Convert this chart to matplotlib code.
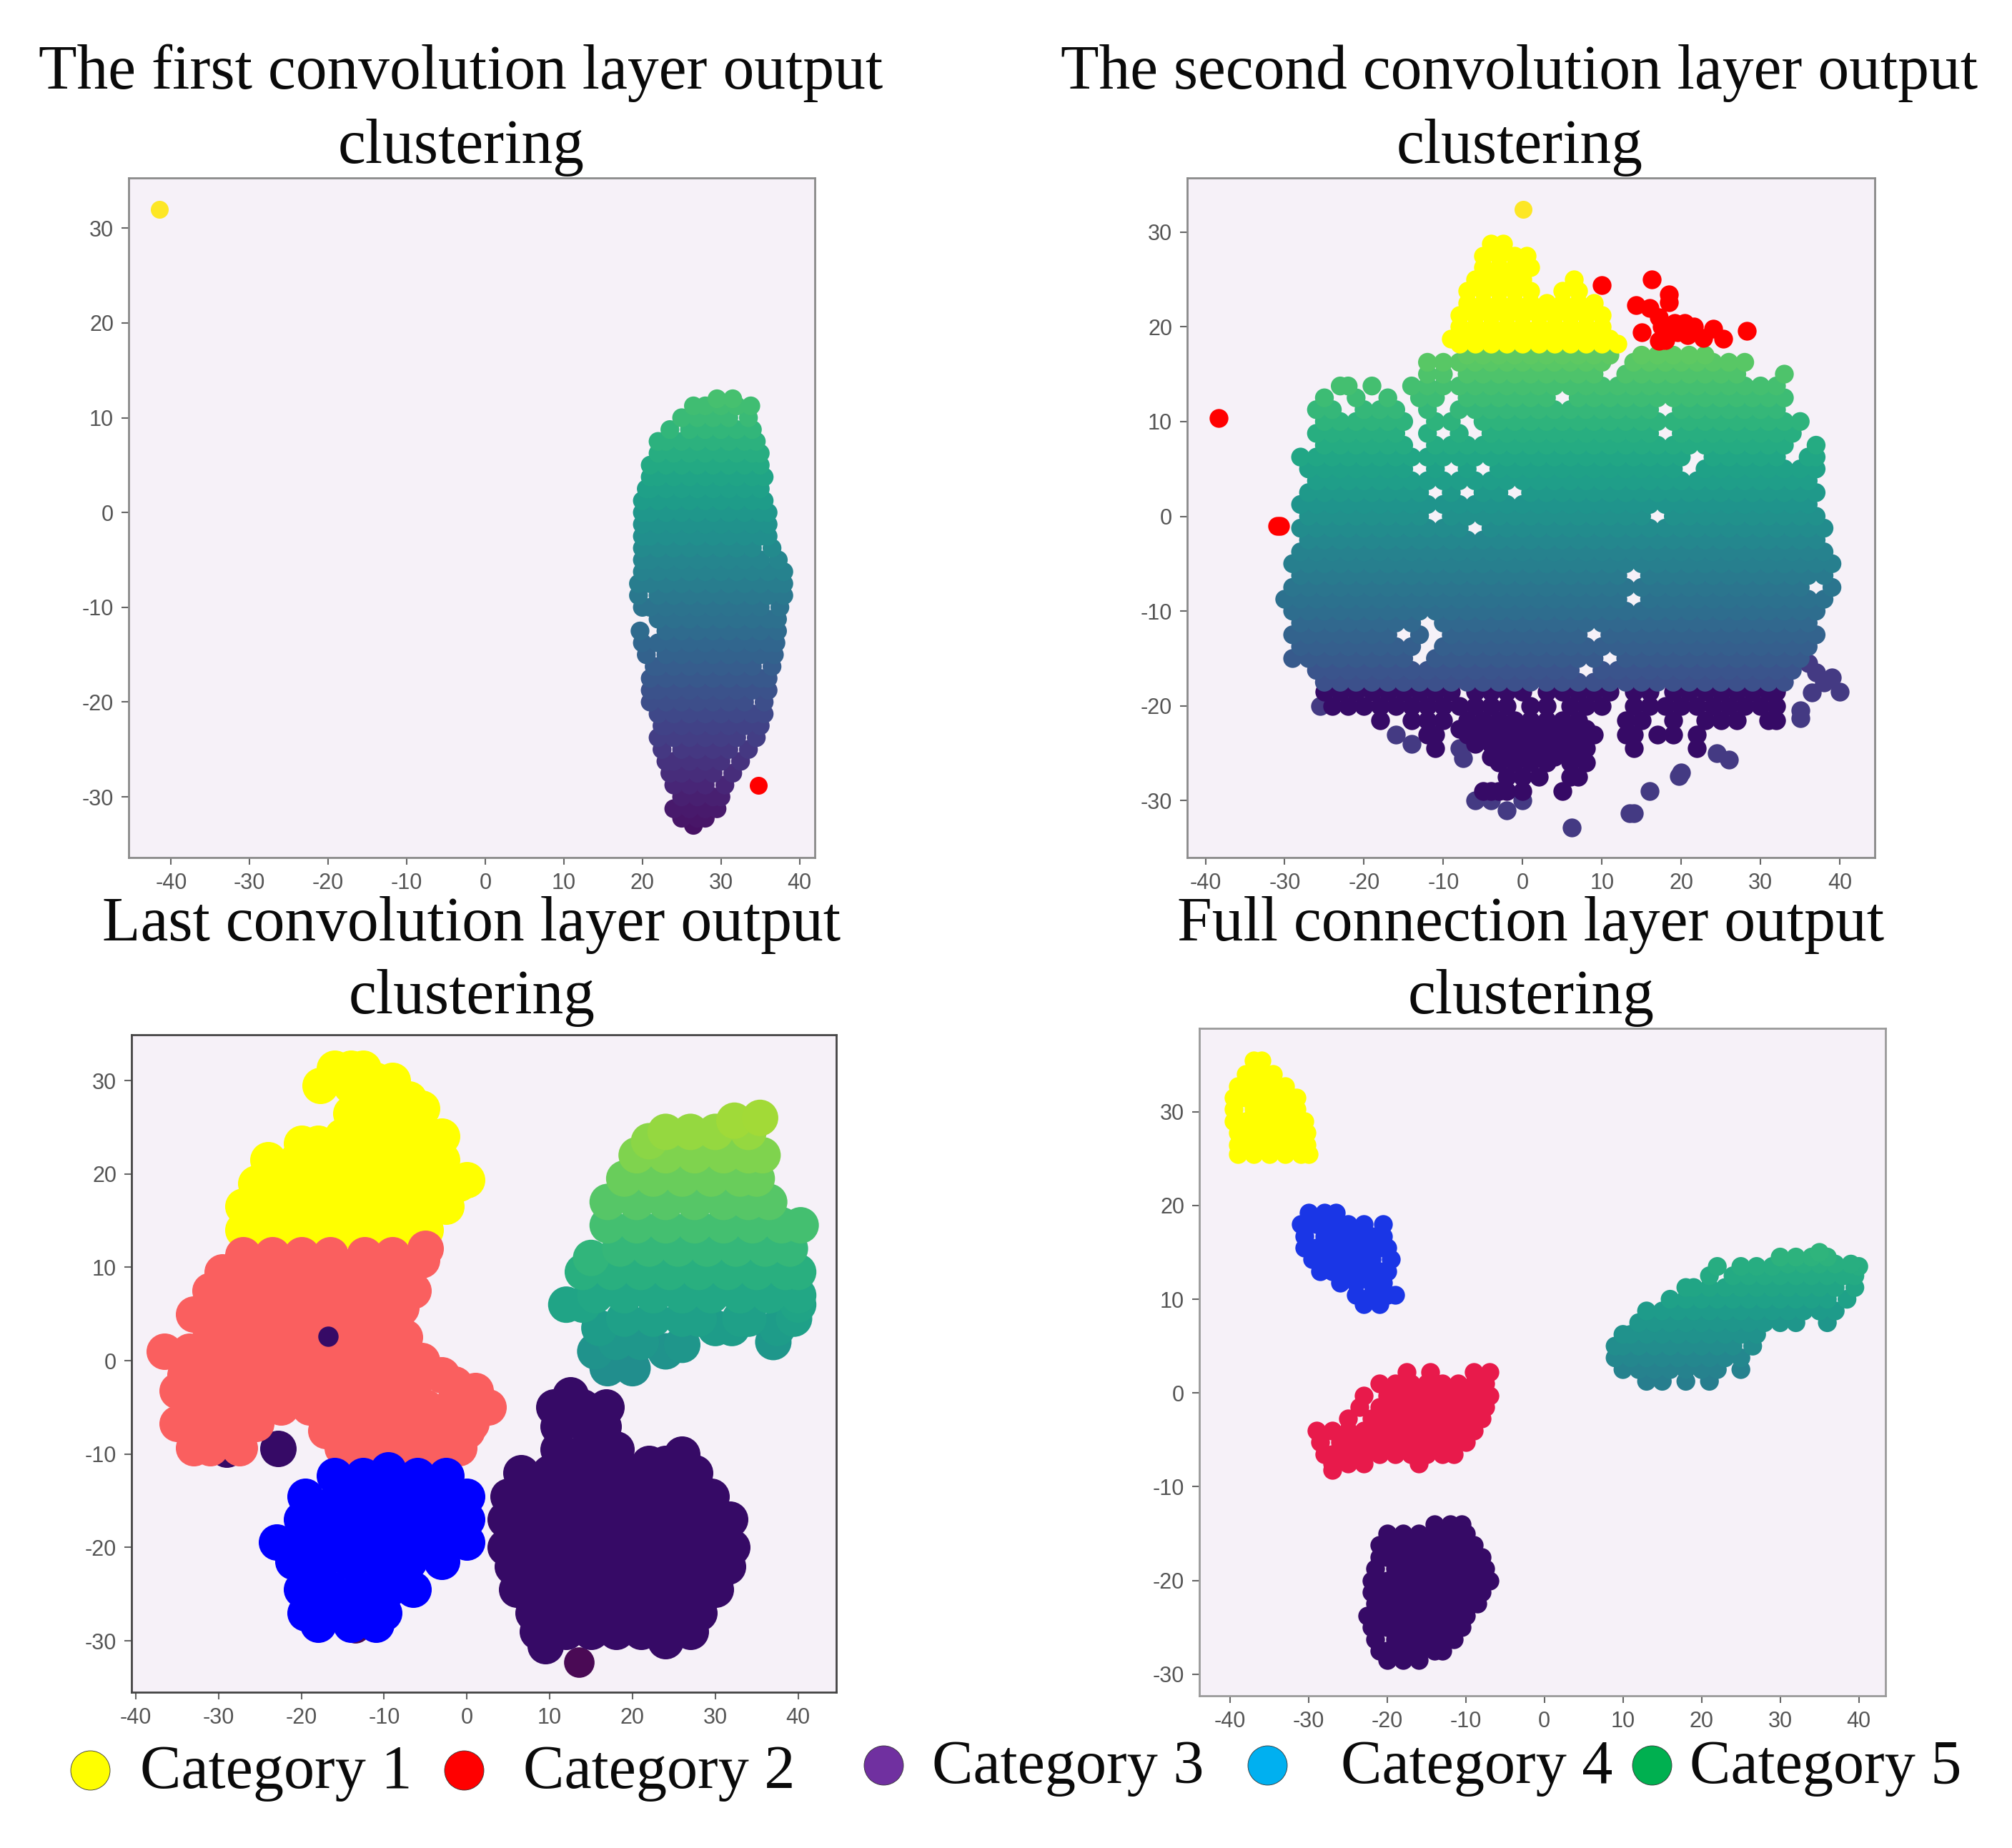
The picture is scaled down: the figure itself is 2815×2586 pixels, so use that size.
import matplotlib
matplotlib.use("Agg")
import matplotlib.pyplot as plt
from matplotlib.colors import Normalize

W, H = 2815, 2586
plt.rcParams['font.family'] = ['Liberation Serif', 'DejaVu Serif']
plt.rcParams['axes.unicode_minus'] = False

titles = [["The first convolution layer output", "clustering"],
          ["The second convolution layer output", "clustering"],
          ["Last convolution layer output", "clustering"],
          ["Full connection layer output", "clustering"]]
legend_labels = ["Category 1", "Category 2", "Category 3", "Category 4", "Category 5"]
legend_colors = ["#ffff00", "#ff0000", "#7030a0", "#00b0f0", "#00b050"]
xticks = [-40, -30, -20, -10, 0, 10, 20, 30, 40]
yticks_a = [-30, -20, -10, 0, 10, 20, 30]

# ---------- panel A: (y, [x...]) rows
a_body = [
 (-33, [26.5]), (-32.25, [25, 27, 28]), (-31.25, [24, 26, 28, 29.5]), (-30, [25, 27, 29, 30]),
 (-28.75, [24, 26, 28, 30.5]), (-27.5, [23.5, 25, 27, 29, 31.5]), (-26.25, [23, 24, 26, 28, 30, 32.5]),
 (-25, [22.5, 25, 27, 29, 31, 33.5]), (-23.75, [22, 24, 26, 28, 30, 32, 34.5]),
 (-22.5, [22.5, 23, 25, 27, 29, 31, 33, 35]), (-21.25, [22, 24, 26, 28, 30, 32, 34, 35.5]),
 (-20, [21, 23, 25, 27, 29, 31, 33, 35.5]), (-18.75, [21, 22, 24, 26, 28, 30, 32, 34, 36]),
 (-17.5, [21, 23, 25, 27, 29, 31, 33, 35, 36]), (-16.25, [21.5, 22, 24, 26, 28, 30, 32, 34, 36.5]),
 (-15, [20.5, 23, 25, 27, 29, 31, 33, 35, 36.8]), (-13.75, [20, 22, 24, 26, 28, 30, 32, 34, 36, 37]),
 (-12.5, [19.7, 23, 25, 27, 29, 31, 33, 35, 37.2]), (-11.25, [22, 24, 26, 28, 30, 32, 34, 36, 37.2]),
 (-10, [20, 21, 23, 25, 27, 29, 31, 33, 35, 37.5]), (-8.75, [19.5, 22, 24, 26, 28, 30, 32, 34, 36, 38]),
 (-7.5, [19.5, 21, 23, 25, 27, 29, 31, 33, 35, 37, 38]),
 (-6.25, [20, 22, 24, 26, 28, 30, 32, 34, 36, 38]),
 (-5, [20, 21, 23, 25, 27, 29, 31, 33, 35, 37.3]),
 (-3.75, [20, 22, 24, 26, 28, 30, 32, 34, 36.5]), (-2.5, [20, 21, 23, 25, 27, 29, 31, 33, 35, 36]),
 (-1.25, [20, 22, 24, 26, 28, 30, 32, 34, 36]), (0, [20, 21, 23, 25, 27, 29, 31, 33, 35, 36]),
 (1.25, [20, 22, 24, 26, 28, 30, 32, 34, 35.5]), (2.5, [20.5, 21, 23, 25, 27, 29, 31, 33, 35]),
 (3.75, [21, 22, 24, 26, 28, 30, 32, 34, 35.5]), (5, [21, 23, 25, 27, 29, 31, 33, 35]),
 (6.25, [22, 24, 26, 28, 30, 32, 34, 35]), (7.5, [22, 23, 25, 27, 29, 31, 33, 34.5]),
 (8.75, [23.5, 26, 28, 30, 32, 34]), (10, [25, 27, 29, 31, 33.5]), (11.25, [26.5, 28, 30, 32, 33.8]),
 (12, [29.5, 31.5]),
]
a_gold = [(-41.5, 32)]
a_red = [(34.8, -28.8)]

# ---------- panel B
b_body = [
 (-17.5, [-25,-23,-21,-19,-17,-15,-13,-11,-9,-7,-5,-3,-1,1,3,5,7,9,11,13,15,17,19,21,23,25,27,29,31,33]),
 (-16.25, [-26,-24,-22,-20,-18,-16,-14,-12,-10,-8,-6,-4,-2,0,2,4,6,10,12,14,16,18,20,22,24,26,28,30,32,34]),
 (-15, [-29,-27,-25,-23,-21,-19,-17,-15,-11,-9,-7,-5,-3,-1,1,3,5,7,9,13,15,17,19,21,23,25,27,29,31,33,35]),
 (-13.75, [-28,-26,-24,-22,-20,-18,-16,-14,-10,-8,-6,-4,-2,0,2,4,6,8,10,12,14,16,18,20,22,24,26,28,30,32,34,36]),
 (-12.5, [-29,-27,-25,-23,-21,-19,-17,-13,-9,-7,-5,-3,-1,1,3,5,7,11,13,15,17,19,21,23,25,27,29,31,33,35,37]),
 (-11.25, [-28,-26,-24,-22,-20,-18,-16,-14,-10,-8,-6,-4,-2,0,2,4,6,8,10,12,14,16,18,20,22,24,26,28,30,32,34,36]),
 (-10, [-29,-27,-25,-23,-21,-19,-17,-15,-13,-11,-9,-7,-5,-3,-1,1,3,5,7,9,11,13,15,17,19,21,23,25,27,29,31,33,35,37]),
 (-8.75, [-30,-28,-26,-24,-22,-20,-18,-16,-14,-12,-10,-8,-6,-4,-2,0,2,4,6,8,10,12,16,18,20,22,24,26,28,30,32,34,36,38]),
 (-7.5, [-29,-27,-25,-23,-21,-19,-17,-15,-13,-11,-9,-7,-5,-3,-1,1,3,5,7,9,11,13,15,17,19,21,23,25,27,29,31,33,35,39]),
 (-6.25, [-28,-26,-24,-22,-20,-18,-16,-14,-12,-10,-8,-6,-4,-2,0,2,4,6,8,10,12,16,18,20,22,24,26,28,30,32,34,36,38]),
 (-5, [-29,-27,-25,-23,-21,-19,-17,-15,-13,-11,-9,-7,-5,-3,-1,1,3,5,7,9,11,13,15,17,19,21,23,25,27,29,31,33,35,37,39]),
 (-3.75, [-28,-26,-24,-22,-20,-18,-16,-14,-12,-10,-8,-6,-4,-2,0,2,4,6,8,10,12,14,16,18,20,22,24,26,28,30,32,34,36,38]),
 (-2.5, [-27,-25,-23,-21,-19,-17,-15,-13,-11,-9,-7,-5,-3,-1,1,3,5,7,9,11,13,15,17,19,21,23,25,27,29,31,33,35,37]),
 (-1.25, [-28,-26,-24,-22,-20,-18,-16,-14,-12,-10,-8,-4,-2,0,2,4,6,8,10,12,14,16,18,20,22,24,26,28,30,32,34,36,38]),
 (0, [-27,-25,-23,-21,-19,-17,-15,-13,-9,-7,-5,-3,-1,1,3,5,7,9,11,13,15,19,21,23,25,27,29,31,33,35,37]),
 (1.25, [-28,-26,-24,-22,-20,-18,-16,-14,-12,-10,-8,-6,-4,-2,0,2,4,6,8,10,12,14,16,18,20,22,24,26,28,30,32,34,36]),
 (2.5, [-27,-25,-23,-21,-19,-17,-15,-13,-9,-5,-3,1,3,5,7,9,11,13,15,17,19,21,23,25,27,29,31,33,35,37]),
 (3.75, [-26,-24,-22,-20,-18,-16,-14,-12,-10,-8,-6,-4,-2,0,2,4,6,8,10,12,14,16,18,20,22,24,26,28,30,32,34,36]),
 (5, [-27,-25,-23,-21,-19,-17,-15,-11,-7,-3,-1,1,3,5,7,9,11,13,15,17,19,23,25,27,29,31,33,35,37]),
 (6.25, [-28,-26,-24,-22,-20,-18,-16,-14,-12,-10,-8,-6,-4,-2,0,2,4,6,8,10,12,14,16,18,20,24,26,28,30,32,36,37]),
 (7.5, [-25,-23,-21,-19,-17,-15,-11,-9,-7,-5,-3,-1,1,3,5,7,9,11,13,15,17,19,21,23,25,27,29,31,33,37]),
 (8.75, [-26,-24,-22,-20,-18,-16,-12,-8,-4,-2,0,2,4,6,8,10,12,14,16,20,22,24,26,28,30,32,34]),
 (10, [-25,-23,-21,-19,-17,-15,-11,-9,-5,-3,-1,1,3,5,7,9,11,13,15,17,19,21,23,25,27,29,31,33,35]),
 (11.25, [-26,-24,-20,-18,-16,-12,-8,-6,-4,-2,0,2,4,6,8,10,12,14,16,20,22,24,26,28,30,32]),
 (12.5, [-25,-21,-17,-13,-11,-7,-5,-3,-1,1,3,7,9,11,13,15,17,19,21,23,25,27,29,31,33]),
 (13.75, [-23,-22,-19,-14,-12,-10,-8,-6,-4,-2,0,2,4,6,8,10,12,14,16,18,20,22,24,26,28,30,32]),
 (15, [-12,-10,-7,-5,-3,-1,1,3,5,7,9,13,15,17,19,21,23,25,27,33]),
 (16.25, [-12,-10,-8,-6,-4,-2,0,2,4,6,8,10,14,16,18,20,22,24,26,28]),
 (17, [-7,-5,-3,-1,1,3,5,7,9,11,15,17,19,21,23]),
]
b_dark = [
 (-18.5, [-25,-23,-21,-19,-17,-15,-13,-11,-9,-6,-4,-2,0,3,5,7,9,11,14,16,19,21,23,25,27,29,31,32]),
 (-20, [-24,-22,-20,-18,-16,-14,-12,-10,-8,-6,-4,-2,1,3,6,8,10,14,16,18,20,22,24,26,28,30,32]),
 (-21.5, [-18,-14,-12,-10,-7,-5,-3,-1,1,3,5,7,13,15,19,23,25,27,31,32]),
 (-22.4, [-8,-6,-4,-2,0,2,4,6,8]),
 (-23, [-12,-11,-7,-5,-3,-1,1,3,5,7,9,13,14,17,19,22]),
 (-24, [-6,-4,-2,0,2,4,6,7]),
 (-24.5, [-11,-3,-1,1,3,5,8,14,22]),
 (-25.4, [-4,-2,0,2,4,6,7]),
 (-26, [-3,-1,1,3,6,8]),
 (-27.5, [-2,0,2,6,7]),
 (-29, [-5,-4,-3,-2,0,5]),
]
b_low = [(-16,-23),(-14,-24),(-8,-24.5),(-7.5,-25.5),(-25.5,-20),(24.5,-25),(26,-25.7),(20,-27),(19.7,-27.4),
         (16,-29),(13.5,-31.3),(14,-31.3),(6.2,-32.8),(-2,-31),(-4,-30),(-6,-30),(0,-30),
         (36,-15.5),(37,-16.5),(38,-17.5),(39,-17),(40,-18.5),(35,-20.5),(35,-21.3),(36.5,-18.6)]
b_yellow = [
 (28.75, [-4,-2.5]), (27.5, [-5,-3,-1,0.5]), (26.25, [-5,-3,-1,1]), (25, [-6,-4,-2,0,6.5]),
 (23.75, [-7,-5,-3,-1,1,5,7]), (22.5, [-7,-5,-3,-1,1,3,5,7,9]), (21.25, [-8,-6,-4,-2,0,2,4,6,8,10]),
 (20, [-8,-6,-4,-2,0,2,4,6,8,10]), (18.75, [-9,-7,-5,-3,-1,1,3,5,7,9,11]), (18.2, [-8,-6,-4,-2,0,2,4,6,8,10,12]),
]
b_red = [(16.3,25),(18.4,23.4),(18.4,22.6),(14.3,22.3),(16,22),(15,19.4),(17.2,21),(17.2,18.5),(18,18.6),(19.2,20.4),
         (20.4,20.4),(21.6,20),(22.8,18.8),(24,19.8),(25.3,18.7),(28.3,19.6),(10,24.4),(-38.3,10.4),(-30.6,-1),(-30.9,-1),
         (17.5,20),(19.5,19.4),(20.8,19.1)]
b_gold = [(0.1, 32.4)]

# ---------- panel C
c_yellow = [
 (31.3, [-16,-14,-12.5]), (30, [-9,-11]), (29.5, [-17.7,-14]), (28, [-10.5,-7]), (27, [-5.5]), (26.5, [-14,-10.5,-7]),
 (24, [-15,-11.5,-8,-4.5,-3]), (23.3, [-20,-18]), (21.5, [-24,-20.5,-17,-13.5,-10,-6.5,-3]),
 (19.4, [0]), (19, [-25.5,-22,-18.5,-15,-11.5,-8,-4.5,-1]),
 (16.5, [-27,-23.5,-20,-16.5,-13,-9.5,-6,-2.5]), (14, [-27,-25,-21.5,-18,-14.5,-11,-7.5,-5]),
]
c_red = [
 (12, [-5]), (11.3, [-27,-23.5,-20,-16.5,-12.4,-9]), (10.8, [-5.5]), (9.5, [-29.5,-25,-21.5,-18,-14.5,-11,-7]),
 (7.5, [-31,-27.5,-24,-20.5,-17,-13.5,-10,-6.5]), (5.7, [-8]), (5, [-33,-29.5,-26,-22.5,-19,-15.5,-12,-8.5]),
 (2.5, [-31,-27.5,-24,-20.5,-17,-13.5,-10,-7.5]), (1, [-36.5,-33.5,-32]), (0, [-29.5,-26,-22.5,-19,-15.5,-12,-8.5,-5.5]),
 (-1.5, [-34,-3]), (-2.5, [-31,-27.5,-24,-20.5,-17,-13.5,-10,-6.5,-1.5]), (-3.2, [-35,-1,1]),
 (-5, [-33,-29.5,-26,-22.5,-19,-15.5,-12,-8.5,-5,-2,2.6]), (-6.7, [-35,-31.5,-28,-25.5,-14,-10.5,-7,-3.5,0.5]),
 (-7.5, [-17,0]), (-9.3, [-33,-31,-27.5,-15,-12,-8.5,-5,-2,-1]),
]
c_dark = [
 (-3.7, [12.5]), (-5, [10.5,14,16.8]), (-7, [11,14.5,16.5]), (-9.5, [11,14.5,18]), (-10, [26]), (-11, [22,24]),
 (-12, [6.5,10,13.5,17,20.5,24,27.5]),
 (-14.5, [5,8.5,12,15.5,19,22.5,26,29.5]), (-17, [4.6,8,11.5,15,18.5,22,25.5,29,31.7]),
 (-19.5, [6,9.5,13,16.5,20,23.5,27,30.5]), (-20, [4.6,32]), (-22, [5.5,8,11.5,15,18.5,22,25.5,29,31.5]),
 (-24.5, [6,9.5,13,16.5,20,23.5,27,30]), (-27, [8,11.5,15,18.5,22,25.5,28]),
 (-29, [8.5,12,15,18,21,24.5,27]), (-30, [24]), (-30.5, [9.5]),
]
c_dark_bits = [(-22.8,-9.4),(-29,-9.5)]
c_dot = [(-16.8, 2.6)]
c_maroon = [(13.5,-32.3),(-13.5,-28.6)]
c_blue = [
 (-11.7, [-9.5]), (-12.3, [-16,-12.5,-6,-2.5]), (-14.5, [-19.5,-15.5,-12,-8.5,-5,-1.5,0]), (-17, [-20,-16.5,-13,-9.5,-6,-2.5,0]),
 (-19.4, [-23,-19.5,-16,-12.5,-9,-5.5,-2,0]), (-21.5, [-21,-17.5,-14,-10.5,-7,-3]),
 (-24.5, [-20,-16.5,-13,-9.5,-6.5]), (-27, [-19.5,-16,-12.5,-10]), (-28.2, [-18,-14,-11]),
]
c_green = [
 (-0.8, [17,20]), (1, [15.5,24]), (1.7, [26]), (2, [18,21,37]), (3.5, [16,30,32,37.5]),
 (4.5, [19,22.5,26,28,33,34,39.5]), (6, [12,14,40]), (7, [15.5,19,22.5,26,29.5,33,36.5,40]),
 (9.5, [14,17.5,21,24.5,28,31.5,35,38.5,40]), (11, [15]), (12, [18.5,22,25.5,29,32.5,36,39]),
 (14.5, [17,20.5,24,27.5,31,34.5,38,40.3]), (17, [17,20.5,24,27.5,31,34,36.5]),
 (19.5, [19,22.5,26,29.5,33,35]), (22, [20.5,24,27.5,31,34,35.7]), (23.5, [22]), (24.5, [24,27,30,34]), (25.7, [32.3]), (26, [35.4]),
]

# ---------- panel D
d_yellow = [
 (35.5, [-37,-36]), (34, [-38,-36,-34.5]), (32.75, [-39,-37,-35,-33]), (31.5, [-39.5,-38,-36,-34,-32,-31.5]),
 (30.25, [-39.5,-37,-35,-33,-31.5]), (29, [-39.5,-38,-36,-34,-32,-30.5]),
 (27.75, [-39,-37,-35,-33,-31,-30.3]), (26.5, [-39,-38,-36,-34,-32,-30.3]), (25.5, [-39,-37,-35,-33,-31,-30]),
]
d_blue = [
 (19.2, [-30,-28,-26.5]), (18, [-31,-29,-27,-25,-23,-20.5]), (16.75, [-30.5,-28,-26,-24,-22,-20.5]),
 (15.5, [-30.5,-29,-27,-25,-23,-21,-20]), (14.25, [-29.5,-28,-26,-24,-22,-19.5]), (13, [-28.5,-27,-25,-23,-21,-20]),
 (11.75, [-26,-24,-22,-20.5]), (10.5, [-24,-22,-20,-19]), (9.5, [-23,-21]),
]
d_red = [
 (2.2, [-17.5,-14.5,-9,-7]), (1, [-21,-19,-17,-15,-13,-11,-9,-7.5]), (-0.25, [-23,-20,-18,-16,-14,-12,-10,-8,-7]),
 (-1.5, [-23.5,-21,-19,-17,-15,-13,-11,-9,-7.5]), (-2.75, [-25,-22,-20,-18,-16,-14,-12,-10,-8]),
 (-4, [-29,-27,-25,-23,-21,-19,-17,-15,-13,-11,-9]), (-5.25, [-28.5,-26,-24,-22,-20,-18,-16,-14,-12,-10]),
 (-6.5, [-28,-27,-25,-23,-21,-19,-17,-15,-13,-11.5]), (-7.5, [-27,-25,-23,-16]), (-8.2, [-27]),
]
d_dark = [
 (-14, [-14,-12,-10.5]), (-15, [-20,-18,-16,-14,-12,-10]), (-16.25, [-21,-19,-17,-15,-13,-11,-9]),
 (-17.5, [-21,-20,-18,-16,-14,-12,-10,-8]), (-18.75, [-21.5,-19,-17,-15,-13,-11,-9,-7.5]),
 (-20, [-22,-20,-18,-16,-14,-12,-10,-8,-7]), (-21.25, [-22,-21,-19,-17,-15,-13,-11,-9,-8]),
 (-22.5, [-21.5,-20,-18,-16,-14,-12,-10,-8.5]), (-23.75, [-22.5,-21,-19,-17,-15,-13,-11,-10]),
 (-25, [-22,-20,-18,-16,-14,-12,-10.5]), (-26.25, [-21.5,-19,-17,-15,-13,-11.5]), (-27.5, [-21,-20,-18,-16,-14,-13]),
 (-28.5, [-20,-18,-16]),
]
d_green = [
 (1.25, [13,15,18,21]), (2.5, [10,12,14,16,18,20,22,25]), (3.75, [9,11,13,15,17,19,21,23,25]),
 (5, [9,10,12,14,16,18,20,22,24,26.5]), (6.25, [10,11,13,15,17,19,21,23,25,27]),
 (7.5, [12,14,16,18,20,22,24,26,28,30,32,36]), (8.75, [13,15,17,19,21,23,25,27,29,31,33,35,37]),
 (10, [16,18,20,22,24,26,28,30,32,34,36,38.5]), (11.25, [18,19,21,23,25,27,29,31,33,35,37,39.5]),
 (12.5, [21,24,26,28,30,32,34,36,38,39.5]), (13.5, [22,25,27,29,40]), (13.75, [31,33,35,37,39]), (14.5, [30,32,34,36]), (15, [35]),
]

PANELS = [(180, 1140, 249, 1200, (-45.4, 41.95), (-36.4, 35.3)),
          (1661, 2623, 249, 1200, (-42.3, 44.4), (-36.0, 35.7)),
          (184, 1170, 1448, 2368, (-40.5, 44.6), (-35.5, 34.9)),
          (1678, 2638, 1439, 2373, (-43.9, 43.4), (-32.3, 38.9))]
FACE = "#f6f1f8"


def expand(rows):
    xs, ys = [], []
    for y, row in rows:
        for x in row:
            xs.append(x)
            ys.append(y)
    return xs, ys


def pts(rows):
    return [p[0] for p in rows], [p[1] for p in rows]


fig = plt.figure(figsize=(W / 100, H / 100), dpi=100, facecolor="white")
axes = []
for (l, r, t, b, xl, yl), spine in zip(PANELS, ["#8a8a8a", "#8a8a8a", "#444444", "#9a9a9a"]):
    ax = fig.add_axes([l / W, 1 - b / H, (r - l) / W, (b - t) / H], facecolor=FACE)
    ax.set_xlim(*xl)
    ax.set_ylim(*yl)
    ax.set_xticks(xticks)
    ax.set_yticks(yticks_a)
    ax.tick_params(length=7, width=1.5, color="#666666", labelcolor="#555555", labelsize=22, pad=8)
    for lab in ax.get_xticklabels() + ax.get_yticklabels():
        lab.set_family(['Liberation Sans', 'DejaVu Sans'])
    for s in ax.spines.values():
        s.set_color(spine)
        s.set_linewidth(2)
    axes.append(ax)

S = 360
SC = 1350
DARK = "#360a66"

# A
x, y = expand(a_body)
axes[0].scatter(x, y, c=y, cmap="viridis", norm=Normalize(-36, 32), s=S, linewidths=0)
x, y = pts(a_gold); axes[0].scatter(x, y, c="#fde725", s=324, linewidths=0)
x, y = pts(a_red); axes[0].scatter(x, y, c="#ff0000", s=324, linewidths=0)

# B
x, y = pts(b_low); axes[1].scatter(x, y, c="#443a83", s=S, linewidths=0)
x, y = expand(b_dark); axes[1].scatter(x, y, c=DARK, s=S, linewidths=0)
x, y = expand(b_body); axes[1].scatter(x, y, c=y, cmap="viridis", norm=Normalize(-34, 34), s=S, linewidths=0)
x, y = expand(b_yellow); axes[1].scatter(x, y, c="#ffff00", s=S, linewidths=0)
x, y = pts(b_red); axes[1].scatter(x, y, c="#ff0000", s=S, linewidths=0)
x, y = pts(b_gold); axes[1].scatter(x, y, c="#fde725", s=324, linewidths=0)

# C
x, y = pts(c_dark_bits); axes[2].scatter(x, y, c=DARK, s=SC, linewidths=0)
x, y = pts(c_maroon); axes[2].scatter(x, y, c="#4a0a55", s=SC * 0.7, linewidths=0)
x, y = expand(c_dark); axes[2].scatter(x, y, c=DARK, s=SC, linewidths=0)
x, y = expand(c_green); axes[2].scatter(x, y, c=y, cmap="viridis", norm=Normalize(-36, 36), s=SC, linewidths=0)
x, y = expand(c_yellow); axes[2].scatter(x, y, c="#ffff00", s=SC, linewidths=0)
x, y = expand(c_red); axes[2].scatter(x, y, c="#fa5f5f", s=SC, linewidths=0)
x, y = expand(c_blue); axes[2].scatter(x, y, c="#0000ff", s=SC, linewidths=0)
x, y = pts(c_dot); axes[2].scatter(x, y, c=DARK, s=420, linewidths=0)

# D
x, y = expand(d_yellow); axes[3].scatter(x, y, c="#ffff00", s=S, linewidths=0)
x, y = expand(d_blue); axes[3].scatter(x, y, c="#1a36e6", s=S, linewidths=0)
x, y = expand(d_red); axes[3].scatter(x, y, c="#e81a4b", s=S, linewidths=0)
x, y = expand(d_dark); axes[3].scatter(x, y, c=DARK, s=S, linewidths=0)
x, y = expand(d_green); axes[3].scatter(x, y, c=y, cmap="viridis", norm=Normalize(-24.6, 36.4), s=S, linewidths=0)

# overlay in figure pixels for titles and the hand-placed legend
ov = fig.add_axes([0, 0, 1, 1], facecolor="none", zorder=5)
ov.set_xlim(0, W)
ov.set_ylim(H, 0)
ov.axis("off")
TS = 63
title_pos = [(645, 124, 228), (2126, 124, 228), (660, 1316, 1418), (2142, 1316, 1418)]
for lines, (cx, y1, y2) in zip(titles, title_pos):
    ov.text(cx, y1, lines[0], ha="center", va="baseline", fontsize=TS, color="#0a0a0a")
    ov.text(cx, y2, lines[1], ha="center", va="baseline", fontsize=TS, color="#0a0a0a")

leg_xy = [(126, 2477), (649, 2477), (1236, 2470), (1773, 2470), (2311, 2470)]
leg_text = [(196, 2502), (732, 2502), (1304, 2495), (1876, 2495), (2364, 2495)]
for lab, col, (cx, cy), (tx, ty) in zip(legend_labels, legend_colors, leg_xy, leg_text):
    ov.scatter([cx], [cy], s=(55 * 0.72) ** 2, c=col, edgecolors="#333333", linewidths=0.6)
    ov.text(tx, ty, lab, ha="left", va="baseline", fontsize=62, color="#0a0a0a")

fig.savefig("out.png", dpi=100)
